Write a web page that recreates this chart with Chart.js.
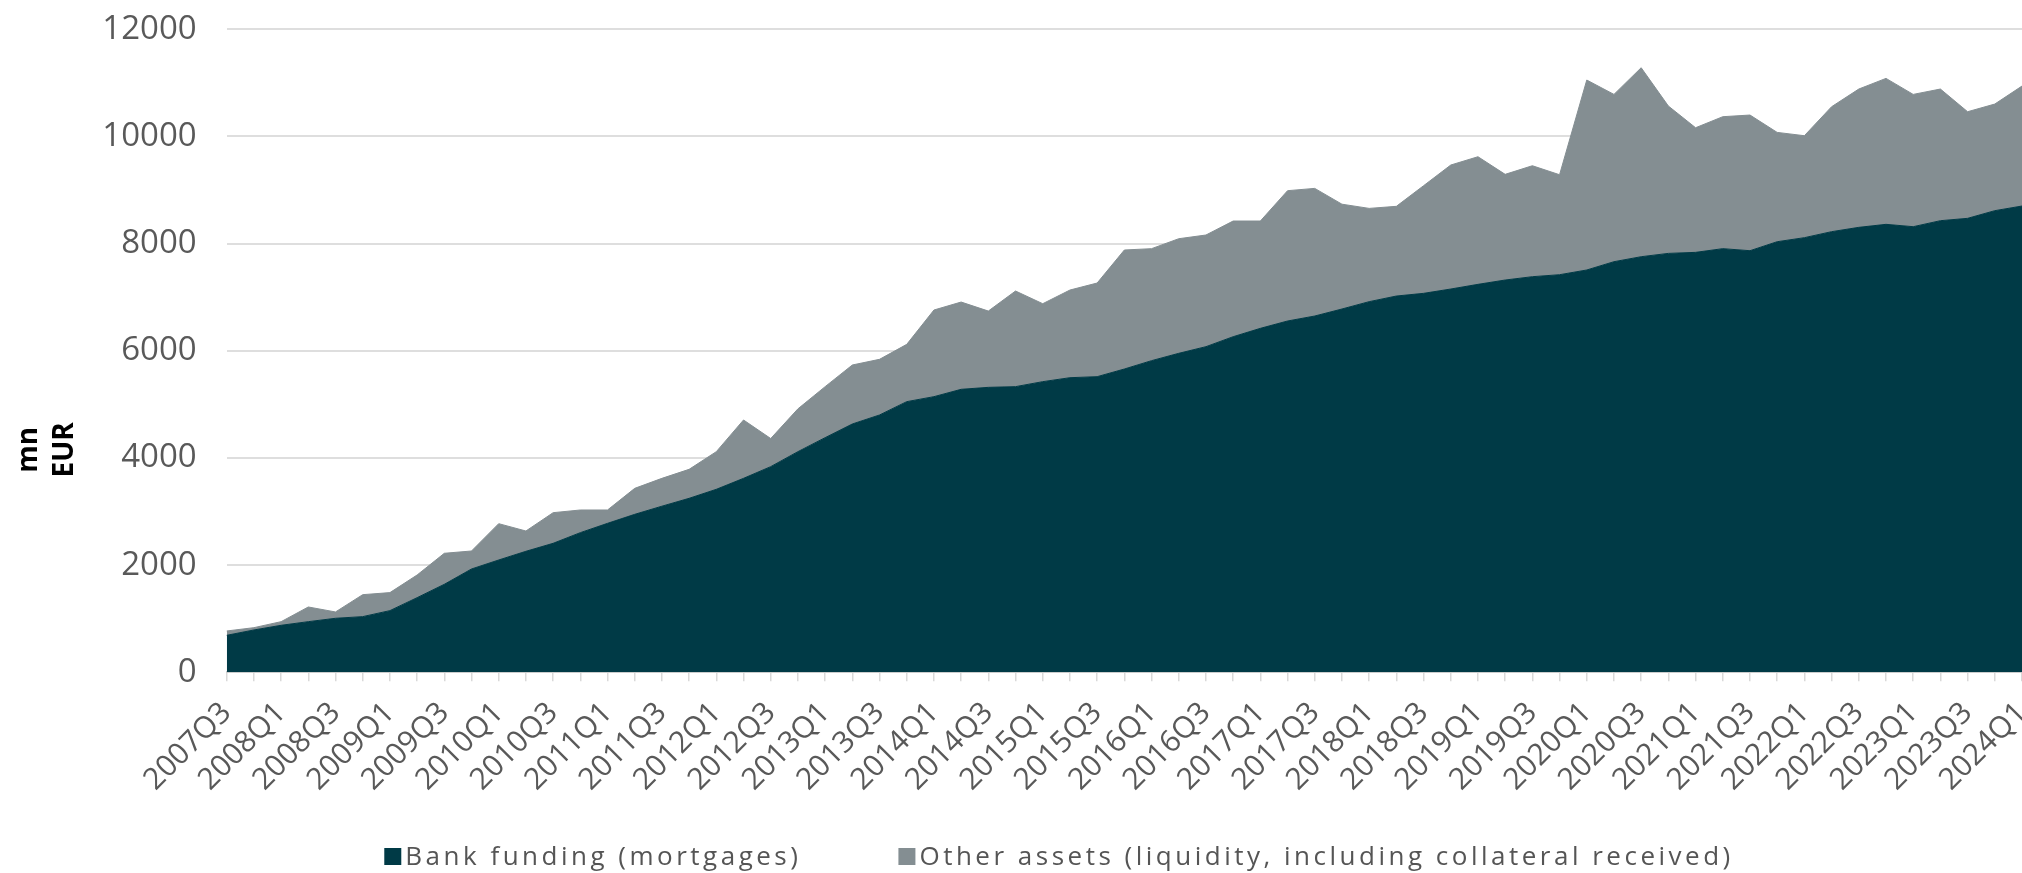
<!DOCTYPE html>
<html>
<head>
<meta charset="utf-8">
<script src="https://cdn.jsdelivr.net/npm/chart.js@4.4.1/dist/chart.umd.min.js"></script>
<style>
  html, body { margin: 0; padding: 0; background: #ffffff; overflow: hidden; }
  #wrap { position: absolute; left: 0; top: 0; width: 2022px; height: 873px; }
</style>
</head>
<body>
<div id="wrap"><canvas id="c"></canvas></div>
<script>
const quarters = [
  '2007Q3','2007Q4','2008Q1','2008Q2','2008Q3','2008Q4','2009Q1','2009Q2','2009Q3','2009Q4',
  '2010Q1','2010Q2','2010Q3','2010Q4','2011Q1','2011Q2','2011Q3','2011Q4','2012Q1','2012Q2',
  '2012Q3','2012Q4','2013Q1','2013Q2','2013Q3','2013Q4','2014Q1','2014Q2','2014Q3','2014Q4',
  '2015Q1','2015Q2','2015Q3','2015Q4','2016Q1','2016Q2','2016Q3','2016Q4','2017Q1','2017Q2',
  '2017Q3','2017Q4','2018Q1','2018Q2','2018Q3','2018Q4','2019Q1','2019Q2','2019Q3','2019Q4',
  '2020Q1','2020Q2','2020Q3','2020Q4','2021Q1','2021Q2','2021Q3','2021Q4','2022Q1','2022Q2',
  '2022Q3','2022Q4','2023Q1','2023Q2','2023Q3','2023Q4','2024Q1'
];

// Bank funding (mortgages), mn EUR
const bankFunding = [
  690, 790, 877, 945, 1008, 1039, 1151, 1393, 1642, 1928,
  2096, 2258, 2407, 2606, 2780, 2948, 3100, 3247, 3415, 3620,
  3838, 4118, 4379, 4634, 4802, 5051, 5144, 5281, 5318, 5331,
  5424, 5498, 5517, 5660, 5816, 5953, 6077, 6263, 6419, 6556,
  6649, 6780, 6917, 7022, 7072, 7153, 7240, 7321, 7383, 7420,
  7508, 7663, 7756, 7818, 7837, 7906, 7868, 8036, 8111, 8223,
  8304, 8360, 8316, 8428, 8472, 8615, 8702
];

// Other assets (liquidity, including collateral received), mn EUR
const otherAssets = [
  81, 43, 68, 274, 118, 410, 336, 423, 579, 336,
  678, 379, 572, 423, 249, 485, 520, 541, 703, 1089,
  525, 799, 952, 1101, 1039, 1069, 1617, 1629, 1424, 1785,
  1455, 1636, 1748, 2221, 2090, 2139, 2084, 2159, 2003, 2432,
  2382, 1956, 1741, 1674, 2009, 2314, 2382, 1972, 2071, 1866,
  3545, 3122, 3527, 2750, 2326, 2463, 2532, 2040, 1903, 2332,
  2581, 2724, 2469, 2457, 1990, 1990, 2239
];

const yTicks = [0, 2000, 4000, 6000, 8000, 10000, 12000];
const seriesNames = ['Bank funding (mortgages)', 'Other assets (liquidity, including collateral received)'];
const seriesColors = ['#003a46', '#848e92'];
const axisTitleLines = ['mn', 'EUR'];

const FONT = "'Open Sans', 'DejaVu Sans', sans-serif";

const yTitlePlugin = {
  id: 'yTitle',
  afterDraw(chart) {
    const ctx = chart.ctx;
    const a = chart.chartArea;
    const cy = a.top + (a.bottom - a.top) * 0.654;
    ctx.save();
    ctx.font = "bold 28px " + FONT;
    ctx.fillStyle = '#000000';
    ctx.textAlign = 'center';
    ctx.textBaseline = 'alphabetic';
    const baselines = [37, 73];
    axisTitleLines.forEach((t, i) => {
      ctx.save();
      ctx.translate(baselines[i], cy);
      ctx.rotate(-Math.PI / 2);
      ctx.fillText(t, 0, 0);
      ctx.restore();
    });
    ctx.restore();
  }
};

const legendPlugin = {
  id: 'bottomLegend',
  afterDraw(chart) {
    const ctx = chart.ctx;
    const a = chart.chartArea;
    const box = 17, gapBoxText = 4, gapItems = 97;
    ctx.save();
    ctx.font = "26px " + FONT;
    try { ctx.letterSpacing = '3.5px'; } catch (e) {}
    ctx.textAlign = 'left';
    ctx.textBaseline = 'alphabetic';
    const items = chart.data.datasets.map(ds => ({
      text: ds.label, color: ds.backgroundColor, w: ctx.measureText(ds.label).width
    }));
    let total = 0;
    items.forEach((it, i) => { total += box + gapBoxText + it.w + (i < items.length - 1 ? gapItems : 0); });
    const cx = a.left + (a.right - a.left) * 0.4636;
    let x = cx - total / 2;
    const boxTop = chart.height - 25;
    items.forEach(it => {
      ctx.fillStyle = it.color;
      ctx.fillRect(x, boxTop, box, box);
      ctx.fillStyle = '#555555';
      ctx.fillText(it.text, x + box + gapBoxText, boxTop + box);
      x += box + gapBoxText + it.w + gapItems;
    });
    ctx.restore();
  }
};

new Chart(document.getElementById('c'), {
  type: 'line',
  data: {
    labels: quarters,
    datasets: [
      {
        label: seriesNames[0], data: bankFunding,
        backgroundColor: seriesColors[0], borderColor: seriesColors[0],
        borderWidth: 1, fill: 'origin', pointRadius: 0, tension: 0
      },
      {
        label: seriesNames[1], data: otherAssets,
        backgroundColor: seriesColors[1], borderColor: seriesColors[1],
        borderWidth: 1, fill: '-1', pointRadius: 0, tension: 0
      }
    ]
  },
  options: {
    responsive: true,
    maintainAspectRatio: false,
    animation: false,
    events: [],
    layout: { padding: { top: 29.3, left: 0, right: 0, bottom: 0 } },
    plugins: {
      legend: { display: false },
      tooltip: { enabled: false },
      title: { display: false }
    },
    scales: {
      x: {
        offset: false,
        grid: { drawOnChartArea: false, drawTicks: true, tickLength: 9, color: '#d9d9d9', lineWidth: 1.5 },
        border: { display: true, color: '#cfcfcf', width: 2 },
        ticks: {
          autoSkip: false, maxRotation: 45, minRotation: 45, padding: 14,
          color: '#595959', font: { family: FONT, size: 30 },
          callback: function(v, i) { return i % 2 === 0 ? quarters[i] : ''; }
        },
        afterFit(scale) { scale.height = 873 - 672.3; scale.paddingLeft = 0; scale.paddingRight = 0; }
      },
      y: {
        stacked: true,
        min: yTicks[0], max: yTicks[yTicks.length - 1],
        afterBuildTicks(scale) { scale.ticks = yTicks.map(v => ({ value: v })); },
        grid: { color: '#dedede', lineWidth: 2, drawTicks: false },
        border: { display: false },
        ticks: {
          padding: 30, color: '#595959', font: { family: FONT, size: 33 },
          callback: function(v) { return String(v); }
        },
        afterFit(scale) { scale.width = 226.7; scale.paddingTop = 0; scale.paddingBottom = 0; }
      }
    }
  },
  plugins: [yTitlePlugin, legendPlugin]
});
</script>
</body>
</html>
